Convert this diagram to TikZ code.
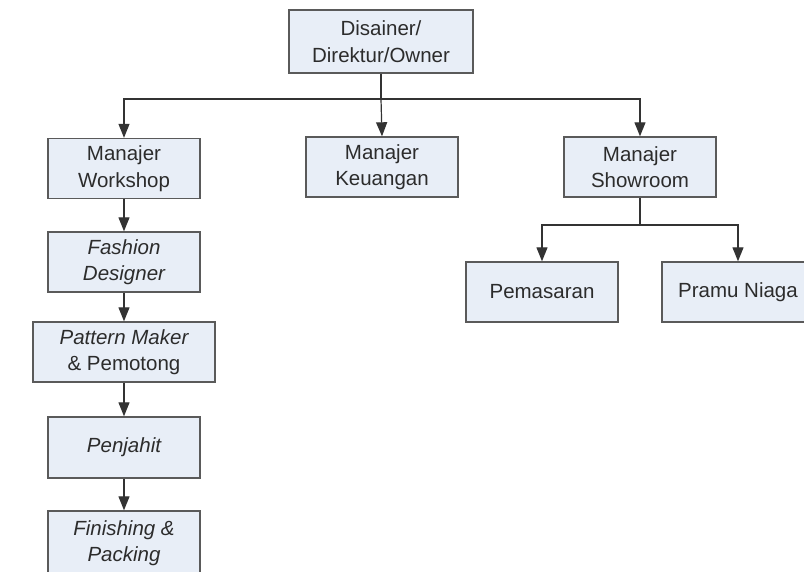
\documentclass[tikz,border=0pt]{standalone}
\usepackage{fontspec}
\setmainfont{Liberation Sans}
\usetikzlibrary{arrows.meta}
\definecolor{boxfill}{HTML}{E8EEF7}
\definecolor{boxline}{HTML}{5A5A5A}
\definecolor{txt}{HTML}{2C2C2C}
\begin{document}
\begin{tikzpicture}[x=1pt,y=-1pt,
  unit/.style={draw=boxline,line width=1.4pt,fill=boxfill,text=txt,
    minimum width=152pt,minimum height=60pt,inner sep=0pt,align=center,
    font=\fontsize{20.5}{26.5}\selectfont},
  link/.style={draw=black!80,line width=1.2pt},
  arr/.style={link,-{Triangle[width=11pt,length=14pt]}}]
\useasboundingbox[fill=white] (0,0) rectangle (804,572);

% top level
\node[unit,minimum width=184pt,minimum height=63pt] (owner) at (381,41.5) {Disainer/\\Direktur/Owner};

% managers
\node[unit] (workshop) at (124,168.5) {Manajer\\Workshop};
\node[unit] (keuangan) at (382,167) {Manajer\\Keuangan};
\node[unit] (showroom) at (640,167) {Manajer\\Showroom};

% workshop chain
\node[unit] (fashion) at (124,262) {\itshape Fashion\\\itshape Designer};
\node[unit,minimum width=182pt] (pattern) at (124,352) {\itshape Pattern Maker\\\& Pemotong};
\node[unit,minimum height=61pt] (penjahit) at (124,447.5) {\itshape Penjahit};
\node[unit,minimum height=64pt] (finishing) at (124,543) {\itshape Finishing \&\\\itshape Packing};

% showroom staff
\node[unit] (pemasaran) at (542,292) {Pemasaran};
\node[unit] (pramu) at (738,292) {Pramu Niaga};

% connectors
\coordinate (hub) at (owner.south |- 0,99);
\draw[link] (owner.south) -- (hub);
\draw[arr] (hub) -| (workshop.north);
\draw[arr] (hub) -| (showroom.north);
\draw[arr] (hub) -- (keuangan.north);

\coordinate (hub2) at (showroom.south |- 0,225);
\draw[link] (showroom.south) -- (hub2);
\draw[arr] (hub2) -| (pemasaran.north);
\draw[arr] (hub2) -| (pramu.north);

\draw[arr] (workshop) -- (fashion);
\draw[arr] (fashion) -- (pattern);
\draw[arr] (pattern) -- (penjahit);
\draw[arr] (penjahit) -- (finishing);
\end{tikzpicture}
\end{document}
